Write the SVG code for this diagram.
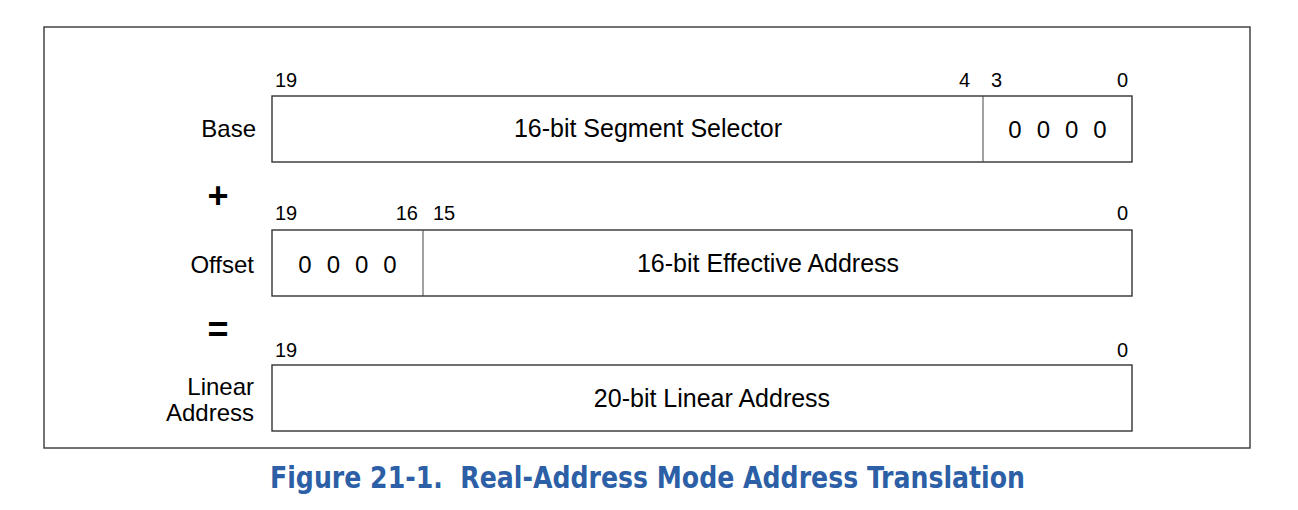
<svg xmlns="http://www.w3.org/2000/svg" width="1298" height="510" viewBox="0 0 1298 510">
<style>
.box{fill:#fff;stroke:#333;stroke-width:1.4}
.div{stroke:#444;stroke-width:1}
.t{font-family:"Liberation Sans",Arial,sans-serif;fill:#000}
.lbl{font-size:24px}
.main{font-size:25px}
.bit{font-size:20px}
.op{font-size:36px;font-weight:bold;text-anchor:middle}
.cap{font-family:"DejaVu Sans Condensed","DejaVu Sans",sans-serif;font-stretch:condensed;font-weight:bold;font-size:31px;fill:#2c5fa6}
</style>
<rect x="0" y="0" width="1298" height="510" fill="#fff"/>
<rect id="frame" x="44" y="27" width="1206" height="421" fill="none" stroke="#444" stroke-width="1.5"/>
<g id="base">
<rect class="box" x="272" y="96" width="860" height="66"/>
<line class="div" x1="983" y1="96" x2="983" y2="162"/>
<text class="t lbl" x="256" y="137" text-anchor="end">Base</text>
<text class="t main" x="648" y="137" text-anchor="middle">16-bit Segment Selector</text>
<text class="t lbl" x="1057.5" y="138" text-anchor="middle" word-spacing="8.3">0 0 0 0</text>
<text class="t bit" x="275" y="87">19</text>
<text class="t bit" x="970" y="87" text-anchor="end">4</text>
<text class="t bit" x="991" y="87">3</text>
<text class="t bit" x="1128" y="87" text-anchor="end">0</text>
</g>
<g id="plus"><text class="t op" x="218" y="208">+</text></g>
<g id="offset">
<rect class="box" x="272" y="230" width="860" height="66"/>
<line class="div" x1="423" y1="230" x2="423" y2="296"/>
<text class="t lbl" x="254" y="273" text-anchor="end">Offset</text>
<text class="t lbl" x="347.5" y="273" text-anchor="middle" word-spacing="8.3">0 0 0 0</text>
<text class="t main" x="768" y="272" text-anchor="middle">16-bit Effective Address</text>
<text class="t bit" x="275" y="220">19</text>
<text class="t bit" x="418" y="220" text-anchor="end">16</text>
<text class="t bit" x="433" y="220">15</text>
<text class="t bit" x="1128" y="220" text-anchor="end">0</text>
</g>
<g id="equals"><text class="t op" x="218" y="342">=</text></g>
<g id="linear">
<rect class="box" x="272" y="365" width="860" height="66"/>
<text class="t lbl" x="254" y="395" text-anchor="end">Linear</text>
<text class="t lbl" x="254" y="421" text-anchor="end">Address</text>
<text class="t main" x="712" y="407" text-anchor="middle">20-bit Linear Address</text>
<text class="t bit" x="275" y="357">19</text>
<text class="t bit" x="1128" y="357" text-anchor="end">0</text>
</g>
<g id="connectors"></g>
<text class="cap" x="270" y="488" textLength="755" lengthAdjust="spacingAndGlyphs" xml:space="preserve">Figure 21-1.  Real-Address Mode Address Translation</text>
</svg>
